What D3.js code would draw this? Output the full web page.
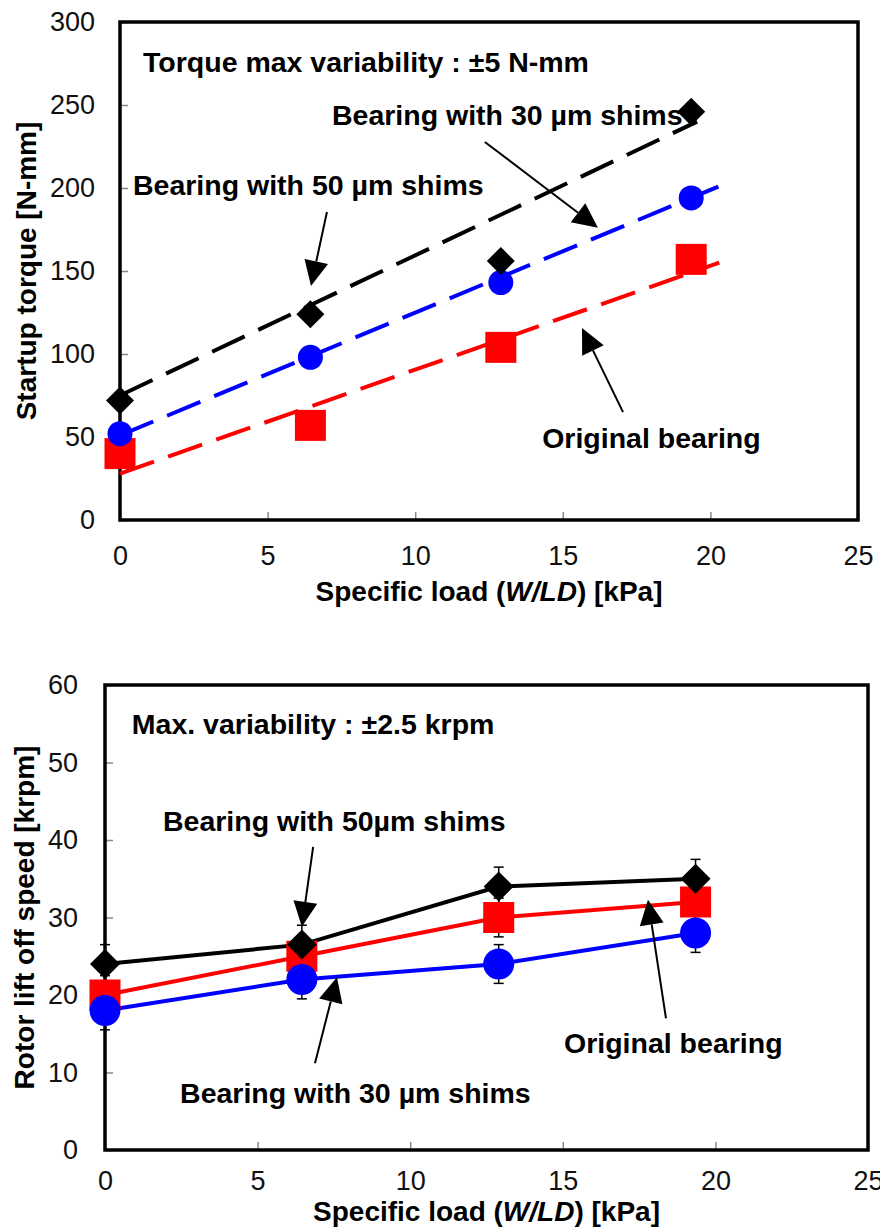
<!DOCTYPE html>
<html>
<head>
<meta charset="utf-8">
<script src="https://cdn.jsdelivr.net/npm/d3@7"></script>
<style>
  body { margin: 0; background: #fff; }
  svg { display: block; }
  text { font-family: Arial, "Liberation Sans", sans-serif; }
</style>
</head>
<body>
<script>
// specific load W/LD [kPa]
const loads = [0, 6.45, 12.9, 19.35];
const loadTicks = [0, 5, 10, 15, 20, 25];

// startup torque [N-mm]
const torqueOriginal = [40, 57, 104, 157];
const torque30 = [52, 98, 143, 194];
const torque50 = [72, 124, 156, 246];
const torqueTicks = [0, 50, 100, 150, 200, 250, 300];
// dashed trend lines, [load, torque] at both ends
const trendOriginal = [[0, 28], [20.3, 155]];
const trend30 = [[0, 51], [20.7, 204]];
const trend50 = [[0, 75], [19.55, 240]];

// rotor lift off speed [krpm]
const liftOriginal = [20, 25, 30, 32];
const lift30 = [18, 22, 24, 28];
const lift50 = [24, 26.5, 34, 35];
const liftError = 2.5;
const liftTicks = [0, 10, 20, 30, 40, 50, 60];

const svg = d3
  .select("body")
  .append("svg")
  .attr("width", 880)
  .attr("height", 1228);

const RED = "#ff0000";
const BLUE = "#0000ff";
const BLACK = "#000000";

function drawArrow(g, x1, y1, x2, y2) {
  const ang = Math.atan2(y2 - y1, x2 - x1);
  const len = 25, half = 12;
  const bx = x2 - len * Math.cos(ang);
  const by = y2 - len * Math.sin(ang);
  g.append("line")
    .attr("x1", x1).attr("y1", y1)
    .attr("x2", bx).attr("y2", by)
    .attr("stroke", "#000").attr("stroke-width", 2);
  const px = -Math.sin(ang) * half, py = Math.cos(ang) * half;
  g.append("polygon")
    .attr("points", [[x2, y2], [bx + px, by + py], [bx - px, by - py]].map((p) => p.join(",")).join(" "))
    .attr("fill", "#000");
}

function drawPanel(p) {
  const g = svg.append("g");
  const x = d3.scaleLinear().domain([0, 25]).range([p.left, p.right]);
  const y = d3.scaleLinear().domain([0, p.yTicks[p.yTicks.length - 1]]).range([p.bottom, p.top]);

  // axes with inward grey ticks
  const yAxis = g.append("g")
    .attr("transform", `translate(${p.left},0)`)
    .call(d3.axisLeft(y).tickValues(p.yTicks).tickSizeInner(-8).tickSizeOuter(0).tickPadding(p.yPad));
  const xAxis = g.append("g")
    .attr("transform", `translate(0,${p.bottom})`)
    .call(d3.axisBottom(x).tickValues(loadTicks).tickSizeInner(-8).tickSizeOuter(0).tickPadding(p.xPad));
  [yAxis, xAxis].forEach((a) => {
    a.select(".domain").remove();
    a.selectAll("line").attr("stroke", "#888").attr("stroke-width", 1.5);
    a.selectAll("text")
      .attr("font-size", 27)
      .attr("fill", "#111")
      .style("font-family", "Arial, 'Liberation Sans', sans-serif");
  });

  // frame
  g.append("rect")
    .attr("x", p.left).attr("y", p.top)
    .attr("width", p.right - p.left).attr("height", p.bottom - p.top)
    .attr("fill", "none").attr("stroke", "#000").attr("stroke-width", 3.5);

  // axis titles
  const xt = g.append("text")
    .attr("x", (p.left + p.right) / 2).attr("y", p.xTitleY)
    .attr("text-anchor", "middle").attr("font-weight", "bold").attr("font-size", 28);
  xt.append("tspan").text("Specific load (");
  xt.append("tspan").attr("font-style", "italic").text("W/LD");
  xt.append("tspan").text(") [kPa]");

  g.append("text")
    .attr("transform", `translate(${p.yTitleX},${(p.top + p.bottom) / 2}) rotate(-90)`)
    .attr("text-anchor", "middle").attr("font-weight", "bold").attr("font-size", 28)
    .text(p.yTitle);

  // error bars
  if (p.error) {
    p.series.forEach((s) => {
      s.values.forEach((v, i) => {
        const cx = x(loads[i]);
        g.append("line").attr("x1", cx).attr("x2", cx)
          .attr("y1", y(v - p.error)).attr("y2", y(v + p.error))
          .attr("stroke", "#000").attr("stroke-width", 1.5);
        [v - p.error, v + p.error].forEach((e) => {
          g.append("line").attr("x1", cx - 5).attr("x2", cx + 5)
            .attr("y1", y(e)).attr("y2", y(e))
            .attr("stroke", "#000").attr("stroke-width", 1.5);
        });
      });
    });
  }

  // lines
  const line = d3.line().x((d) => x(d[0])).y((d) => y(d[1]));
  p.series.forEach((s) => {
    const pts = s.trend ? s.trend : s.values.map((v, i) => [loads[i], v]);
    g.append("path")
      .attr("d", line(pts))
      .attr("fill", "none")
      .attr("stroke", s.color)
      .attr("stroke-width", 4)
      .attr("stroke-dasharray", s.trend ? "36,15" : null);
  });

  // markers
  p.series.forEach((s) => {
    const sym = d3.symbol()
      .type(s.shape === "circle" ? d3.symbolCircle : d3.symbolSquare)
      .size(p.sizes[s.shape]);
    g.selectAll(null)
      .data(s.values)
      .enter()
      .append("path")
      .attr("d", sym)
      .attr("fill", s.color)
      .attr("transform", (d, i) =>
        `translate(${x(loads[i])},${y(d)})` + (s.shape === "diamond" ? " rotate(45)" : ""));
  });

  // annotations
  p.notes.forEach((n) => {
    g.append("text")
      .attr("x", x(n.at[0])).attr("y", y(n.at[1]))
      .attr("font-weight", "bold").attr("font-size", 28.5)
      .text(n.text);
  });
  p.arrows.forEach((a) => {
    drawArrow(g, x(a[0][0]), y(a[0][1]), x(a[1][0]), y(a[1][1]));
  });
}

drawPanel({
  left: 120, right: 858, top: 22, bottom: 520,
  yTicks: torqueTicks, yPad: 25, xPad: 26,
  xTitleY: 601, yTitleX: 36,
  yTitle: "Startup torque [N-mm]",
  sizes: { diamond: 392, square: 961, circle: 491 },
  series: [
    { values: torqueOriginal, color: RED, shape: "square", trend: trendOriginal },
    { values: torque30, color: BLUE, shape: "circle", trend: trend30 },
    { values: torque50, color: BLACK, shape: "diamond", trend: trend50 },
  ],
  notes: [
    { text: "Torque max variability : ±5 N-mm", at: [0.78, 270] },
    { text: "Bearing with 30 µm shims", at: [7.18, 238] },
    { text: "Bearing with 50 µm shims", at: [0.44, 196] },
    { text: "Original bearing", at: [14.3, 43.4] },
  ],
  arrows: [
    [[7.01, 185.5], [6.47, 141]],
    [[12.36, 227.7], [16.19, 176]],
    [[17.04, 65], [15.65, 115.7]],
  ],
});

drawPanel({
  left: 105, right: 868, top: 685, bottom: 1150,
  yTicks: liftTicks, yPad: 27, xPad: 21,
  xTitleY: 1221, yTitleX: 34,
  yTitle: "Rotor lift off speed [krpm]",
  error: liftError,
  sizes: { diamond: 450, square: 961, circle: 755 },
  series: [
    { values: liftOriginal, color: RED, shape: "square" },
    { values: lift30, color: BLUE, shape: "circle" },
    { values: lift50, color: BLACK, shape: "diamond" },
  ],
  notes: [
    { text: "Max. variability : ±2.5 krpm", at: [0.88, 53.7] },
    { text: "Bearing with 50µm shims", at: [1.9, 41.2] },
    { text: "Bearing with 30 µm shims", at: [2.46, 6.06] },
    { text: "Original bearing", at: [15.04, 12.5] },
  ],
  arrows: [
    [[6.82, 39.1], [6.45, 28.8]],
    [[6.88, 11.2], [7.6, 22.3]],
    [[18.38, 17.0], [17.79, 32.3]],
  ],
});
</script>
</body>
</html>
